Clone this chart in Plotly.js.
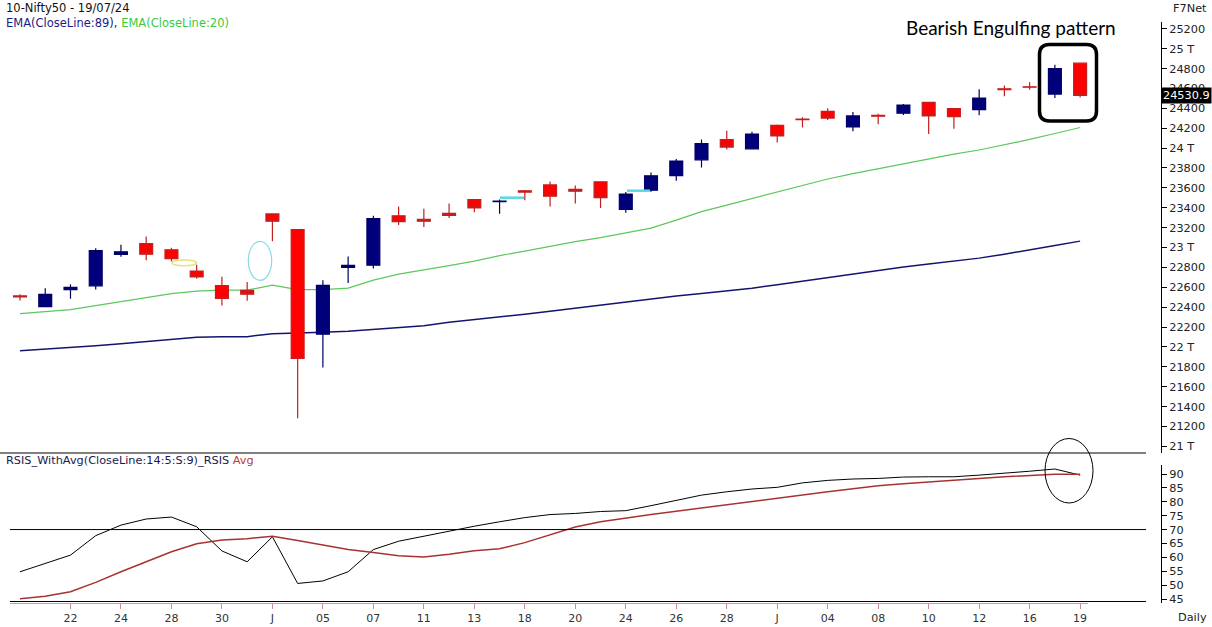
<!DOCTYPE html>
<html>
<head>
<meta charset="utf-8">
<script src="https://cdn.plot.ly/plotly-3.0.1.min.js"></script>
<style>html,body{margin:0;padding:0;background:#fff;}#chart{width:1212px;height:627px;}</style>
</head>
<body>
<div id="chart"></div>
<script>
// ---------- data ----------
const dates = ['2024-05-18','2024-05-21','2024-05-22','2024-05-23','2024-05-24','2024-05-27','2024-05-28','2024-05-29','2024-05-30','2024-05-31',
  '2024-06-03','2024-06-04','2024-06-05','2024-06-06','2024-06-07','2024-06-10','2024-06-11','2024-06-12','2024-06-13','2024-06-14',
  '2024-06-18','2024-06-19','2024-06-20','2024-06-21','2024-06-24','2024-06-25','2024-06-26','2024-06-27','2024-06-28',
  '2024-07-01','2024-07-02','2024-07-03','2024-07-04','2024-07-05','2024-07-08','2024-07-09','2024-07-10','2024-07-11','2024-07-12',
  '2024-07-15','2024-07-16','2024-07-18','2024-07-19'];

const openP = [22512.85,22404.55,22576.6,22614.1,22930.75,23038.95,22977.15,22762.75,22617.45,22568.1,
  23337.9,23179.5,22128.35,22798.6,22821.85,23319.15,23283.75,23344.45,23480.95,23460,
  23570.95,23629.75,23586.15,23661.15,23382.3,23577.1,23723.1,23881.55,24085.9,
  23992.95,24228.75,24291.75,24369.95,24213.35,24329.45,24351.0,24459.85,24396.55,24387.95,
  24596.0,24615.9,24543.8,24853.8];
const highP = [22530.7,22591.1,22629.5,22993.6,23026.4,23110.8,22998.55,22825.5,22705.75,22653.75,
  23338.7,23179.5,22670.4,22910.15,23320.2,23411.9,23389.45,23441.95,23481.05,23482,
  23579.05,23664.0,23624.0,23667.1,23558.95,23754.15,23889.9,24087.45,24174.0,
  24164.0,24236.35,24309.15,24401.0,24363.0,24344.6,24443.6,24461.05,24402.65,24592.2,
  24630.0,24661.25,24837.75,24854.8];
const lowP = [22467.85,22404.55,22483.15,22577.45,22908.0,22871.2,22858.5,22685.65,22417.0,22465.1,
  23062.3,21281.45,21791.95,22642.6,22789.05,23227.2,23206.65,23295.95,23353.9,23340,
  23475.35,23412.9,23442.6,23398.2,23350.0,23562.05,23670.9,23805.4,23985.8,
  23992.7,24056.4,24207.1,24281.65,24168.85,24240.55,24331.9,24141.8,24193.75,24331.15,
  24522.15,24587.65,24504.45,24508.15];
const closeP = [22502.0,22529.05,22597.8,22967.65,22957.1,22932.45,22888.15,22704.7,22488.65,22530.7,
  23263.9,21884.5,22620.35,22821.4,23290.15,23259.2,23264.85,23322.95,23398.9,23465.6,
  23557.9,23516.0,23567.0,23501.1,23537.85,23721.3,23868.8,24044.5,24010.6,
  24141.95,24123.85,24286.5,24302.15,24323.85,24320.55,24433.2,24324.45,24315.95,24502.15,
  24586.7,24613.0,24800.85,24530.9];

const ema20 = [22334,22354,22375,22415,22455,22500,22536,22561,22571,22571,
  22621,22576,22576,22591,22672,22732,22772,22818,22863,22918,
  22964,23014,23059,23100,23145,23195,23276,23361,23427,
  23492,23558,23623,23689,23744,23794,23840,23895,23940,23981,
  24031,24087,24147,24207];
const ema89 = [21962,21977,21992,22012,22032,22052,22077,22098,22103,22103,
  22133,22138,22148,22158,22178,22193,22213,22249,22274,22304,
  22329,22359,22390,22420,22450,22480,22511,22536,22561,
  22591,22626,22662,22697,22732,22767,22803,22833,22863,22893,
  22933,22974,23019,23064];

const rsi = [54.8,57.8,60.8,67.8,71.6,73.8,74.5,71.0,62.3,58.4,
  67.4,50.6,51.5,54.8,62.8,65.8,67.6,69.6,71.2,72.8,
  74.3,75.4,75.8,76.5,76.8,78.6,80.4,82.4,83.6,
  84.6,85.2,86.8,87.7,88.2,88.4,88.9,89.0,89.0,89.6,
  90.2,91.0,91.8,89.6];
const rsiAvg = [45.1,46.0,47.6,51.0,54.8,58.4,62.0,64.9,66.2,66.7,
  67.6,66.1,64.4,62.8,61.7,60.6,60.1,61.1,62.4,63.1,
  65.3,68.0,70.9,72.8,74.2,75.4,76.6,77.8,79.0,
  80.2,81.4,82.6,83.6,84.7,85.8,86.5,87.2,87.7,88.4,
  89.0,89.5,89.9,89.9];

const xTickVals = ['2024-05-22','2024-05-24','2024-05-28','2024-05-30','2024-06-03','2024-06-05','2024-06-07','2024-06-11','2024-06-13',
  '2024-06-18','2024-06-20','2024-06-24','2024-06-26','2024-06-28','2024-07-02','2024-07-04','2024-07-08','2024-07-10','2024-07-12','2024-07-16','2024-07-19'];
const xTickText = ['22','24','28','30','J','05','07','11','13','18','20','24','26','28','J','04','08','10','12','16','19'];

const priceTickVals = [21000,21200,21400,21600,21800,22000,22200,22400,22600,22800,23000,23200,23400,23600,23800,24000,24200,24400,24600,24800,25000,25200];
const priceTickText = ['21 T','21200','21400','21600','21800','22 T','22200','22400','22600','22800','23 T','23200','23400','23600','23800','24 T','24200','24400','24600','24800','25 T','25200'];
const rsiTickVals = [45,50,55,60,65,70,75,80,85,90];
const lastClose = closeP[closeP.length-1];

// ---------- layout helpers ----------
const W = 1212, H = 627;
const px = x => x / W;
const py = y => 1 - y / H;
const FONT = 'DejaVu Sans, Verdana, sans-serif';

function roundRectPath(x0, y0, x1, y1, r) {
  const P = (x, y) => px(x).toFixed(5) + ',' + py(y).toFixed(5);
  return 'M' + P(x0 + r, y0) + ' L' + P(x1 - r, y0) + ' Q' + P(x1, y0) + ' ' + P(x1, y0 + r) +
    ' L' + P(x1, y1 - r) + ' Q' + P(x1, y1) + ' ' + P(x1 - r, y1) +
    ' L' + P(x0 + r, y1) + ' Q' + P(x0, y1) + ' ' + P(x0, y1 - r) +
    ' L' + P(x0, y0 + r) + ' Q' + P(x0, y0) + ' ' + P(x0 + r, y0) + ' Z';
}

const priceRange = [20932.6, 25268.5];

const traces = [
  {type:'scatter', mode:'lines', x:dates, y:ema89, xaxis:'x', yaxis:'y',
   line:{color:'#14146e', width:1.5}, hoverinfo:'skip'},
  {type:'scatter', mode:'lines', x:dates, y:ema20, xaxis:'x', yaxis:'y',
   line:{color:'#5cc85c', width:1.2}, hoverinfo:'skip'},
  {type:'candlestick', x:dates, open:openP, high:highP, low:lowP, close:closeP, xaxis:'x', yaxis:'y3',
   increasing:{line:{color:'#000066', width:1.2}, fillcolor:'#00007a'},
   decreasing:{line:{color:'#c41e1e', width:1.2}, fillcolor:'#ff0000'},
   whiskerwidth:0, hoverinfo:'skip'},
  {type:'scatter', mode:'lines', x:dates, y:rsi, xaxis:'x', yaxis:'y2',
   line:{color:'#000000', width:1}, hoverinfo:'skip'},
  {type:'scatter', mode:'lines', x:dates, y:rsiAvg, xaxis:'x', yaxis:'y2',
   line:{color:'#a83232', width:1.5}, hoverinfo:'skip'}
];

const layout = {
  width: W, height: H,
  margin: {l:0, r:0, t:0, b:0},
  paper_bgcolor: '#ffffff', plot_bgcolor: '#ffffff',
  showlegend: false,
  boxgap: 0.27,
  font: {family: FONT, size: 11, color: '#222'},
  xaxis: {
    type: 'category', domain: [px(10), px(1146)], range: [-0.396, 44.61], anchor: 'y2',
    tickmode: 'array', tickvals: xTickVals, ticktext: xTickText,
    ticks: 'outside', ticklen: 5, tickcolor: '#c89090', tickwidth: 1,
    showline: false, showgrid: false, zeroline: false,
    rangeslider: {visible: false}, fixedrange: true,
    tickfont: {family: FONT, size: 11, color: '#333'}
  },
  yaxis: {
    domain: [py(453), py(22)], range: priceRange, side: 'right', anchor: 'free', position: px(1161),
    tickmode: 'array', tickvals: priceTickVals, ticktext: priceTickText,
    ticks: 'outside', ticklen: 5, tickcolor: '#000',
    showline: true, linecolor: '#000', linewidth: 1, showgrid: false, zeroline: false, fixedrange: true,
    tickfont: {family: FONT, size: 11.3, color: '#222'}
  },
  yaxis3: {
    overlaying: 'y', range: priceRange, visible: false, anchor: 'x', fixedrange: true,
    showgrid: false, zeroline: false
  },
  yaxis2: {
    domain: [py(603), py(465)], range: [43.56, 93.24], side: 'right', anchor: 'free', position: px(1161),
    tickmode: 'array', tickvals: rsiTickVals,
    ticks: 'outside', ticklen: 5, tickcolor: '#000',
    showline: true, linecolor: '#000', linewidth: 1, showgrid: false, zeroline: false, fixedrange: true,
    tickfont: {family: FONT, size: 11.3, color: '#222'}
  },
  shapes: [
    {type:'line', xref:'paper', yref:'paper', x0:0, x1:px(1146), y0:py(453), y1:py(453), line:{color:'#000', width:1}},
    {type:'line', xref:'paper', yref:'paper', x0:px(10), x1:px(1146), y0:py(601.5), y1:py(601.5), line:{color:'#000', width:1}},
    {type:'line', xref:'paper', yref:'paper', x0:px(10), x1:px(1088), y0:py(603.5), y1:py(603.5), line:{color:'#d09a9a', width:1}},
    {type:'line', xref:'paper', yref:'y2', x0:px(10), x1:px(1146), y0:70, y1:70, line:{color:'#000', width:1}},
    {type:'line', xref:'paper', yref:'paper', x0:px(500), x1:px(524), y0:py(197.7), y1:py(197.7), line:{color:'#5ad8e0', width:2.5}},
    {type:'line', xref:'paper', yref:'paper', x0:px(627), x1:px(650), y0:py(190.7), y1:py(190.7), line:{color:'#5ad8e0', width:2.5}},
    {type:'circle', xref:'paper', yref:'paper', x0:px(248.3), x1:px(271.7), y0:py(241.3), y1:py(280.3), line:{color:'#8adbe6', width:1.2}},
    {type:'circle', xref:'paper', yref:'paper', x0:px(171.7), x1:px(196.7), y0:py(260), y1:py(265.7), line:{color:'#ece07a', width:1.5}},
    {type:'circle', xref:'paper', yref:'paper', x0:px(1045), x1:px(1093), y0:py(438.5), y1:py(503), line:{color:'#000', width:1}},
    {type:'path', xref:'paper', yref:'paper', path: roundRectPath(1039.5, 44.5, 1096.5, 121, 10), line:{color:'#000', width:3.5}}
  ],
  annotations: [
    {xref:'paper', yref:'paper', x:px(4), y:py(7.5), xanchor:'left', yanchor:'middle', showarrow:false,
     text:'10-Nifty50 - 19/07/24', font:{family:FONT, size:11.5, color:'#111'}},
    {xref:'paper', yref:'paper', x:px(4), y:py(23.5), xanchor:'left', yanchor:'middle', showarrow:false,
     text:'<span style="color:#1c1c84">EMA(CloseLine:89), </span><span style="color:#3ec83e">EMA(CloseLine:20)</span>',
     font:{family:FONT, size:11.5, color:'#1c1c84'}},
    {xref:'paper', yref:'paper', x:px(1209), y:py(8), xanchor:'right', yanchor:'middle', showarrow:false,
     text:'F7Net', font:{family:FONT, size:11.3, color:'#222'}},
    {xref:'paper', yref:'paper', x:px(4), y:py(460.5), xanchor:'left', yanchor:'middle', showarrow:false,
     text:'<span style="color:#1a1a50">RSIS_WithAvg(CloseLine:14:5:S:9)_RSIS </span><span style="color:#c03a3a">Avg</span>',
     font:{family:FONT, size:11.3, color:'#1a1a50'}},
    {xref:'paper', yref:'paper', x:px(1209), y:py(617), xanchor:'right', yanchor:'middle', showarrow:false,
     text:'Daily', font:{family:FONT, size:11.3, color:'#222'}},
    {xref:'paper', yref:'paper', x:px(904), y:py(27), xanchor:'left', yanchor:'middle', showarrow:false,
     text:'Bearish Engulfing pattern', font:{family:'Lato, Open Sans, sans-serif', size:19, color:'#000'}},
    {xref:'paper', yref:'y', x:px(1161), y:lastClose, xanchor:'left', yanchor:'middle', showarrow:false,
     text:lastClose.toFixed(1), bgcolor:'#000', borderpad:1,
     font:{family:FONT, size:11.3, color:'#fff'}}
  ]
};

Plotly.newPlot('chart', traces, layout, {displayModeBar:false, staticPlot:true});
</script>
</body>
</html>
